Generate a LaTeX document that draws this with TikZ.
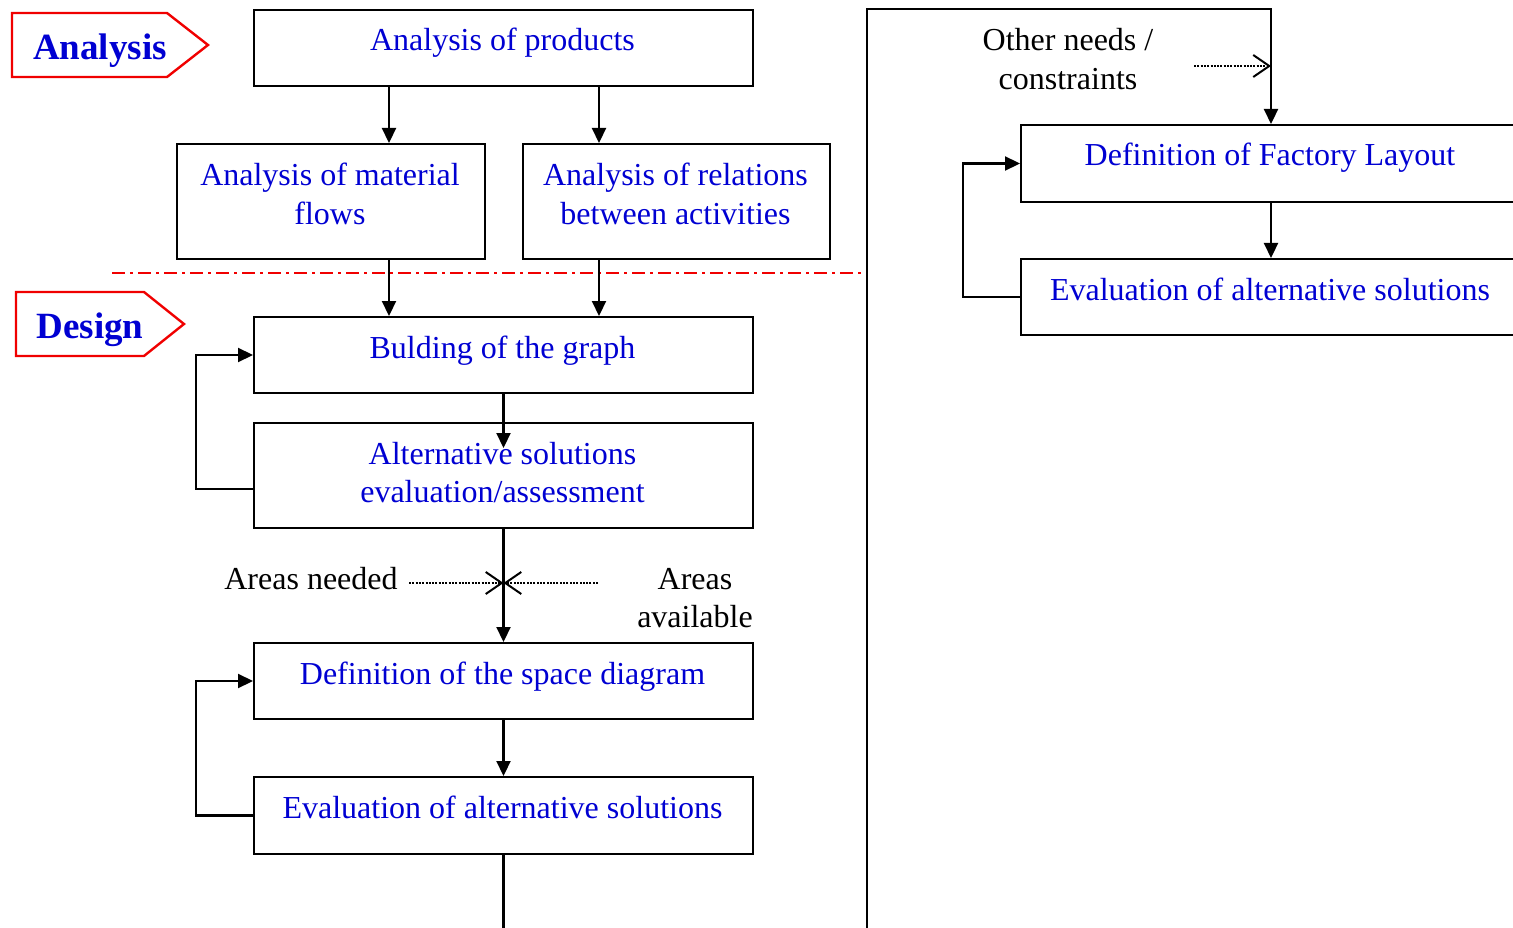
\documentclass[tikz,border=0pt]{standalone}
\usepackage{fontspec}
\setmainfont{Liberation Serif}
\usetikzlibrary{arrows.meta}
\definecolor{txtblue}{RGB}{0,0,210}
\definecolor{tagred}{RGB}{240,0,0}
\begin{document}
\begin{tikzpicture}[x=1pt,y=-1pt,
  box/.style={draw, line width=2pt, inner sep=0pt, anchor=north west},
  lbl/.style={text=txtblue, inner sep=0pt, anchor=base, font=\fontsize{32}{38.5}\selectfont},
  note/.style={text=black, inner sep=0pt, anchor=base, font=\fontsize{32}{38.5}\selectfont},
  taglbl/.style={text=txtblue, inner sep=0pt, anchor=base, font=\fontsize{37}{44}\selectfont\bfseries},
  tagline/.style={draw=tagred, line width=2.4pt, line join=miter},
  conn/.style={line width=2.2pt},
  arr/.style={conn, -{Triangle[length=15pt,width=14pt]}},
  hint/.style={line width=2pt, dash pattern=on 2pt off 1.3pt,
    -{Straight Barb[length=16pt,width=22pt,line width=2pt]}},
  phase/.style={draw=tagred, line width=2pt, dash pattern=on 13pt off 5pt on 3pt off 5pt}
]
\useasboundingbox (0,0) rectangle (1513,928);
\clip (0,0) rectangle (1513,928);

% phase tags
\draw[tagline] (12,13) -- (167,13) -- (208,45) -- (167,77) -- (12,77) -- cycle;
\node[taglbl] (tagA) at (100,60) {Analysis};
\draw[tagline] (16,292) -- (144,292) -- (184,324) -- (144,356) -- (16,356) -- cycle;
\node[taglbl] (tagD) at (90,338) {Design};

% left column boxes
\node[box, minimum width=499pt, minimum height=76pt] (prod) at (253,9) {};
\node[box, minimum width=308pt, minimum height=115pt] (flows) at (176,143) {};
\node[box, minimum width=307pt, minimum height=115pt] (rel) at (522,143) {};
\node[box, minimum width=499pt, minimum height=76pt] (graph) at (253,316) {};
\node[box, minimum width=499pt, minimum height=105pt] (alt) at (253,422) {};
\node[box, minimum width=499pt, minimum height=76pt] (space) at (253,642) {};
\node[box, minimum width=499pt, minimum height=77pt] (eval) at (253,776) {};

% right column boxes
\node[box, minimum width=500pt, minimum height=77pt] (fact) at (1020,124) {};
\node[box, minimum width=500pt, minimum height=76pt] (evalR) at (1020,258) {};

% box texts
\node[lbl] (prodT) at (502.5,51) {Analysis of products};
\node[lbl] (flowsT) at (330,186) {\begin{tabular}[t]{@{}c@{}}Analysis of material\\ flows\end{tabular}};
\node[lbl] (relT) at (675.5,186) {\begin{tabular}[t]{@{}c@{}}Analysis of relations\\ between activities\end{tabular}};
\node[lbl] (graphT) at (502.5,358) {Bulding of the graph};
\node[lbl] (altT) at (502.5,464) {\begin{tabular}[t]{@{}c@{}}Alternative solutions\\ evaluation/assessment\end{tabular}};
\node[lbl] (spaceT) at (502.5,684) {Definition of the space diagram};
\node[lbl] (evalT) at (502.5,818) {Evaluation of alternative solutions};
\node[lbl] (factT) at (1270,166) {Definition of Factory Layout};
\node[lbl] (evalRT) at (1270,300) {Evaluation of alternative solutions};

% side notes
\node[note] (need) at (311,589) {Areas needed};
\node[note] (avail) at (695,589) {\begin{tabular}[t]{@{}c@{}}Areas\\ available\end{tabular}};
\node[note] (other) at (1068,51) {\begin{tabular}[t]{@{}c@{}}Other needs /\\ constraints\end{tabular}};

% analysis / design boundary
\coordinate (phL) at (112,273);
\coordinate (phR) at (865,273);
\draw[phase] (phL) -- (phR);

% analysis flow
\draw[arr] ([xshift=-114.5pt]prod.south) -- ([xshift=-114.5pt]prod.south |- flows.north);
\draw[arr] ([xshift=95.5pt]prod.south) -- ([xshift=95.5pt]prod.south |- rel.north);
\draw[arr] ([xshift=58pt]flows.south) -- ([xshift=58pt]flows.south |- graph.north);
\draw[arr] ([xshift=-77.5pt]rel.south) -- ([xshift=-77.5pt]rel.south |- graph.north);

% design flow
\draw[arr] (graph.south) -- ([yshift=-26pt]alt.north);
\draw[arr] ([yshift=-13.5pt]alt.west) -- ++(-57,0) |- (graph.west);
\draw[arr] (alt.south) -- (space.north);
\draw[arr] (space.south) -- (eval.north);
\draw[arr] (eval.west) -- ++(-57,0) |- (space.west);

\coordinate (needS) at (409,583);
\coordinate (availS) at (598,583);
\draw[hint] (needS) -- (needS -| alt.south);
\draw[hint] (availS) -- (availS -| alt.south);

% continuation into the factory layout
\coordinate (fb) at (867,928);
\draw[conn] (eval.south) -- (eval.south |- fb);
\draw[arr] (fb) |- ([yshift=115pt]fact.north) -- (fact.north);
\coordinate (otherS) at (1194,66);
\draw[hint] (otherS) -- (otherS -| fact.north);
\draw[arr] (fact.south) -- (evalR.north);
\draw[arr] (evalR.west) -- ++(-57,0) |- (fact.west);
\end{tikzpicture}
\end{document}
